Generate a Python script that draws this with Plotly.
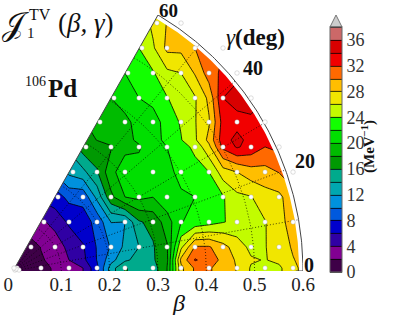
import numpy as np
import plotly.graph_objects as go

# --- data -----------------------------------------------------------------
levels = dict(start=0, end=38, size=2)
band_colors = ["#3e0047", "#810092", "#3000a4", "#0000cc", "#0059dd", "#0091dd", "#00a7b0",
               "#00aa8c", "#009902", "#00bb00", "#00df00", "#12ff00", "#c2fc00", "#f1e600",
               "#ffbe00", "#ff6900", "#f20000", "#d80000", "#cc6868"]
over_color = "#cccccc"
bar_ticks = [0, 4, 8, 12, 16, 20, 24, 28, 32, 36]
beta_ticks = [0, 0.1, 0.2, 0.3, 0.4, 0.5, 0.6]
beta_labels = ["0\u00a0\u00a0", "0.1", "0.2", "0.3", "0.4", "0.5", "0.6"]
gamma_lines = [10, 20, 30, 40, 50]
beta_arcs = [0.1, 0.2, 0.3, 0.4, 0.5]

dx = 0.02897                     # half lattice step in beta*cos(gamma)
row_y = [0.0061, 0.0487, 0.0995, 0.1502, 0.2009, 0.2517, 0.3024, 0.3511, 0.4019, 0.4526, 0.5033]
row_first_k = [0, 1, 2, 3, 4, 5, 6, 7, 8, 9, 10]
row_first_x = [0.0020, 0.0372, 0.0641, 0.0931, 0.1241, 0.1510, 0.1800, 0.2090, 0.2379, 0.2669, 0.2979]
z_r0 = [0.5, 1.2, 3.2, 7.5, 16.1, 15, 27.5, 30.2, 27.9, 25, 27.5, 30]
z_r1 = [0.5, 2.6, 5.8, 10.2, 14, 17.8, 30.2, 28.7, 25.5, 26.5, 30]
z_r2 = [3.5, 6.3, 8.5, 12, 16.6, 21.9, 23.2, 24.5, 25.9, 29]
z_r3 = [7, 8.5, 17.5, 20.5, 21.5, 22, 23.8, 25.9, 27.5, 30]
z_r4 = [12.5, 15.8, 21, 21.5, 22.2, 24, 28, 29.3, 31]
z_r5 = [17, 17.8, 19.8, 22, 24.5, 32.5, 33.3, 32.5]
z_r6 = [19.3, 19.5, 21, 24.2, 27.8, 33.3, 33.5]
z_r7 = [20, 22, 23.9, 25.8, 34, 35.5]
z_r8 = [22, 23.8, 26, 31, 33.5]
z_r9 = [24, 28.5, 30, 32]
z_r10 = [26.5, 29.5]
z_rows = [z_r0, z_r1, z_r2, z_r3, z_r4, z_r5, z_r6, z_r7, z_r8, z_r9, z_r10]
# extra samples between lattice nodes: (row y, k, value)
extra_y = [0.0223, 0.2659]
extras = [(0.0223, 13, 32.2), (0.0223, 12, 28.5), (0.0223, 14, 31), (0.0223, 15, 29.5), (0.0223, 11, 17.5),
          (0.2659, 16, 34.6), (0.2517, 16, 34.2), (0.2659, 15, 33.2), (0.2659, 17, 33.3),
          (0.0061, 5, 4), (0.0061, 7, 13), (0.0061, 9, 15.5), (0.0061, 11, 18), (0.0061, 13, 30.3),
          (0.0061, 15, 29.2), (0.0061, 17, 25.8), (0.0061, 19, 25.6),
          (0.0487, 10, 15.8), (0.0487, 12, 25.5), (0.0487, 14, 30.2), (0.0487, 16, 27),
          (0.0995, 11, 19), (0.0995, 13, 22.6), (0.0995, 15, 23.9),
          (0.1502, 8, 20), (0.2009, 7, 19.5),
          (0.2517, 14, 27.5), (0.3024, 15, 32.8), (0.3024, 17, 33.3),
          (0.3511, 14, 28.5), (0.3511, 16, 34.8), (0.4019, 15, 32.5)]
# origin cluster
origin_x = [0.0041, 0.0083, 0.0124, 0.0062]
origin_y = [0.0020, 0.0061, 0.0020, 0.0041]

# --- grid ----------------------------------------------------------------
nk = 23
ys = sorted([-0.02] + row_y + extra_y + [0.56])
xs = [k * dx for k in range(nk)]
grid = [[None] * nk for _ in ys]
for i, vals in enumerate(z_rows):
    r = ys.index(row_y[i])
    for j, v in enumerate(vals):
        grid[r][row_first_k[i] + 2 * j] = v
for y_, k_, v_ in extras:
    grid[ys.index(y_)][k_] = v_
grid[0] = list(grid[ys.index(row_y[0])])

stepped = []
for i, c in enumerate(band_colors):
    stepped += [[i / 19, c], [(i + 1) / 19, c]]

fig = go.Figure()
fig.add_trace(go.Contour(
    x=xs, y=ys, z=grid, connectgaps=True, zauto=False, zmin=0, zmax=38,
    autocontour=False, contours=dict(coloring="fill", showlines=True, **levels),
    line=dict(color="black", width=0.8, smoothing=0), colorscale=stepped, hoverinfo="skip",
    colorbar=dict(x=(330 - 13) / 290, xanchor="left", xpad=0, y=-0.004, yanchor="bottom", ypad=0,
                  thickness=12, thicknessmode="pixels", len=245, lenmode="pixels",
                  tickvals=bar_ticks, ticks="", outlinecolor="#666666", outlinewidth=1,
                  tickfont=dict(family="Liberation Serif", size=18, color="#333333")),
))

def polar(beta, gamma_deg):
    g = np.radians(gamma_deg)
    return np.asarray(beta) * np.cos(g), np.asarray(beta) * np.sin(g)

# white mask outside the sampled region
ang = np.linspace(60, 0, 121)
mx, my = polar(0.592, ang)
fig.add_trace(go.Scatter(
    x=[0] + list(mx) + [0.6, 0.6, 0, 0], y=[0] + list(my) + [0, 0.5197, 0.5197, 0],
    mode="lines", fill="toself", fillcolor="white", line=dict(width=0), hoverinfo="skip", showlegend=False))

# dotted graticule
for g in gamma_lines:
    lx, ly = polar(np.array([0, 0.6]), g)
    fig.add_trace(go.Scatter(x=lx, y=ly, mode="lines", line=dict(color="black", width=0.7, dash="1px,2px"),
                             hoverinfo="skip", showlegend=False))
for b in beta_arcs:
    lx, ly = polar(b, np.linspace(0, 60, 61))
    fig.add_trace(go.Scatter(x=lx, y=ly, mode="lines", line=dict(color="black", width=0.7, dash="1px,2px"),
                             hoverinfo="skip", showlegend=False))

# outline
ox, oy = polar(0.6, np.linspace(60, 0, 121))
fig.add_trace(go.Scatter(x=[0] + list(ox) + [0.6, 0.585], y=[0] + list(oy) + [0, 0], mode="lines",
                         line=dict(color="#444444", width=1), cliponaxis=False, hoverinfo="skip", showlegend=False))

# sample points
dot_x, dot_y = list(origin_x), list(origin_y)
for i, vals in enumerate(z_rows):
    for j in range(len(vals)):
        dot_x.append(row_first_x[i] if j == 0 else (row_first_k[i] + 2 * j) * dx)
        dot_y.append(row_y[i])
fig.add_trace(go.Scatter(x=dot_x, y=dot_y, mode="markers", cliponaxis=False, hoverinfo="skip", showlegend=False,
                         marker=dict(color="white", size=4.5, symbol="circle", line=dict(color="#aaaaaa", width=0.4))))

serif = "Liberation Serif"
fig.update_layout(
    width=411, height=315, margin=dict(l=13, r=108, t=15, b=44, autoexpand=False), paper_bgcolor="white",
    plot_bgcolor="white", showlegend=False,
    xaxis=dict(range=[0, 0.6], showgrid=False, zeroline=False, showline=False, ticks="", tickvals=beta_ticks,
               ticktext=beta_labels, tickfont=dict(family=serif, size=19, color="#222222"), tickangle=0),
    yaxis=dict(range=[0, 0.5197], showgrid=False, zeroline=False, showline=False, visible=False),
)

def to_paper(px, py):
    return (px - 13) / 290, (271 - py) / 256

a, b = to_paper(330, 27); c, d = to_paper(336, 15); e, f_ = to_paper(342, 27)
fig.add_shape(type="path", xref="paper", yref="paper", path=f"M {a} {b} L {c} {d} L {e} {f_} Z",
              fillcolor=over_color, line=dict(color="#777777", width=1))

def note(px, py, text, size, **kw):
    x_, y_ = to_paper(px, py)
    fig.add_annotation(x=x_, y=y_, xref="paper", yref="paper", text=text, showarrow=False,
                       font=dict(family=serif, size=size, color="#111111"),
                       xanchor="center", yanchor="middle", **kw)

note(15, 24, "\U0001D4A5", 32)
note(40, 14, "TV", 16)
note(31, 33, "1", 15)
note(86, 23, "(<i>β, γ</i>)", 27)
note(35, 81, "106", 14)
note(62, 88, "<b>Pd</b>", 25)
note(168, 10, "<b>60</b>", 19)
note(253, 68, "<b>40</b>", 20)
note(305, 161, "<b>20</b>", 20)
note(309, 265, "<b>0</b>", 20)
note(255, 37, "<i>γ</i><b>(deg)</b>", 23)
note(178, 303, "<i>β</i>", 24)
note(368, 146, "<b>(MeV<sup>−1</sup>)</b>", 15, textangle=-90)

fig.write_html("out.html", config=dict(displayModeBar=False), post_script="document.body.style.margin='0';")
